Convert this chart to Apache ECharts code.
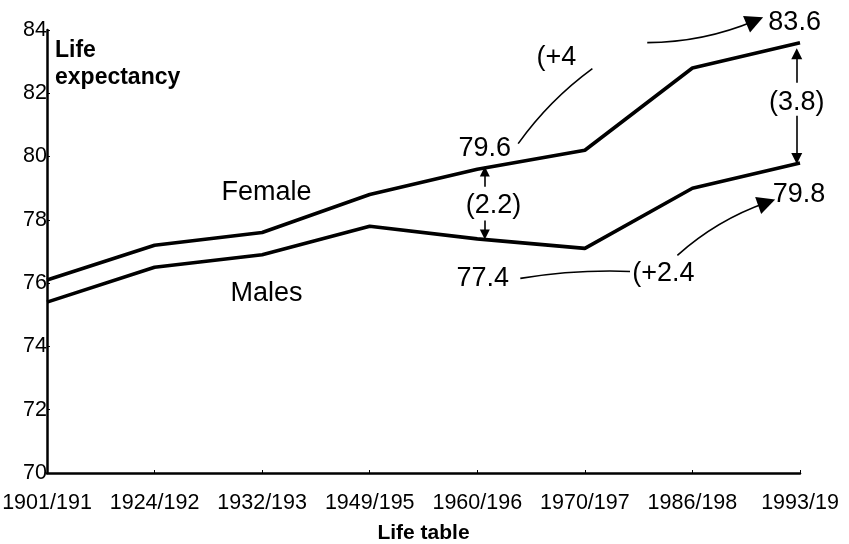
<!DOCTYPE html>
<html><head><meta charset="utf-8">
<script src="https://cdn.jsdelivr.net/npm/echarts@6/dist/echarts.min.js"></script>
<style>html,body{margin:0;padding:0;background:#fff}#c{width:849px;height:544px}</style>
</head><body><div id="c"></div>
<script>
const categories = ['1901/191','1924/192','1932/193','1949/195','1960/196','1970/197','1986/198','1993/19'];
const female = [76.1, 77.2, 77.6, 78.8, 79.6, 80.2, 82.8, 83.6];
const males  = [75.4, 76.5, 76.9, 77.8, 77.4, 77.1, 79.0, 79.8];
const yTicks = [70, 72, 74, 76, 78, 80, 82, 84];
// annotation texts: [x index, value, text, align]
const annoTexts = [
  [2.04, 78.86, 'Female', 'center'],
  [2.04, 75.68, 'Males', 'center'],
  [4.07, 80.25, '79.6', 'center'],
  [4.55, 83.12, '(+4', 'left'],
  [6.95, 84.23, '83.6', 'center'],
  [6.97, 81.70, '(3.8)', 'center'],
  [6.99, 78.80, '79.8', 'center'],
  [4.15, 78.45, '(2.2)', 'center'],
  [4.05, 76.15, '77.4', 'center'],
  [5.44, 76.31, '(+2.4', 'left']
];
// connector lines: [x1, v1, x2, v2, arrow at end?, curveness, arrow size]
const annoLines = [
  [4.38, 80.41, 5.07, 82.78, false, 0.08, 0],
  [5.58, 83.60, 6.58, 84.29, true, -0.1, 18],
  [6.97, 82.33, 6.97, 83.25, true, 0, 11],
  [6.97, 81.29, 6.97, 79.94, true, 0, 11],
  [4.07, 79.05, 4.07, 79.53, true, 0, 10],
  [4.07, 77.98, 4.07, 77.54, true, 0, 10],
  [4.40, 76.15, 5.42, 76.37, false, 0.05, 0],
  [5.86, 76.88, 6.69, 78.55, true, 0.1, 18]
];

const FONT = 'Liberation Sans, Arial, sans-serif';
const chart = echarts.init(document.getElementById('c'), null, {renderer: 'canvas'});

const lineSeries = annoLines.map(l => ({
  type: 'lines', coordinateSystem: 'cartesian2d', xAxisIndex: 1, yAxisIndex: 0,
  clip: false, silent: true, z: 5,
  symbol: ['none', l[4] ? 'triangle' : 'none'],
  symbolSize: l[6] || 1,
  lineStyle: {color: '#000', width: 1.6, opacity: 1, curveness: l[5]},
  itemStyle: {color: '#000'},
  data: [{coords: [[l[0], l[1]], [l[2], l[3]]]}]
}));

chart.setOption({
  animation: false,
  backgroundColor: '#fff',
  grid: {left: 47, right: 49, top: 30, bottom: 71, containLabel: false, outerBoundsMode: 'none'},
  xAxis: [{
    type: 'category', data: categories, boundaryGap: false,
    axisLine: {lineStyle: {color: '#000', width: 2.5}},
    axisTick: {show: true, inside: true, length: 3, lineStyle: {color: '#000', width: 1}},
    axisLabel: {color: '#000', fontSize: 21.5, fontFamily: FONT, margin: 19, interval: 0},
    name: 'Life table', nameLocation: 'middle', nameGap: 50,
    nameTextStyle: {color: '#000', fontSize: 21, fontWeight: 'bold', fontFamily: FONT},
    splitLine: {show: false}
  }, {
    type: 'value', min: 0, max: categories.length - 1, show: false
  }],
  yAxis: {
    type: 'value', min: yTicks[0], max: yTicks[yTicks.length - 1], interval: 2,
    axisLine: {show: true, lineStyle: {color: '#000', width: 2.5}},
    axisTick: {show: true, inside: true, length: 3, lineStyle: {color: '#000', width: 1}},
    axisLabel: {color: '#000', fontSize: 21.5, fontFamily: FONT, margin: 0},
    splitLine: {show: false}
  },
  graphic: [{
    type: 'text', left: 55, top: 37,
    style: {text: 'Life\nexpectancy', fill: '#000', font: 'bold 23px ' + FONT, lineHeight: 27}
  }],
  series: [
    {name: 'Female', type: 'line', data: female, symbol: 'none',
     lineStyle: {color: '#000', width: 3.6}, z: 3},
    {name: 'Males', type: 'line', data: males, symbol: 'none',
     lineStyle: {color: '#000', width: 3.6}, z: 3},
    {type: 'scatter', xAxisIndex: 1, yAxisIndex: 0, clip: false, symbolSize: 0, silent: true, z: 6,
     itemStyle: {color: '#000', opacity: 1},
     data: annoTexts.map(t => ({value: [t[0], t[1]], label: {align: t[3]}, name: t[2]})),
     label: {show: true, position: 'inside', formatter: p => p.name, color: '#000',
             textBorderWidth: 0, textShadowBlur: 0, opacity: 1,
             fontSize: 27, fontFamily: FONT, verticalAlign: 'middle'}}
  ].concat(lineSeries)
});
</script></body></html>
